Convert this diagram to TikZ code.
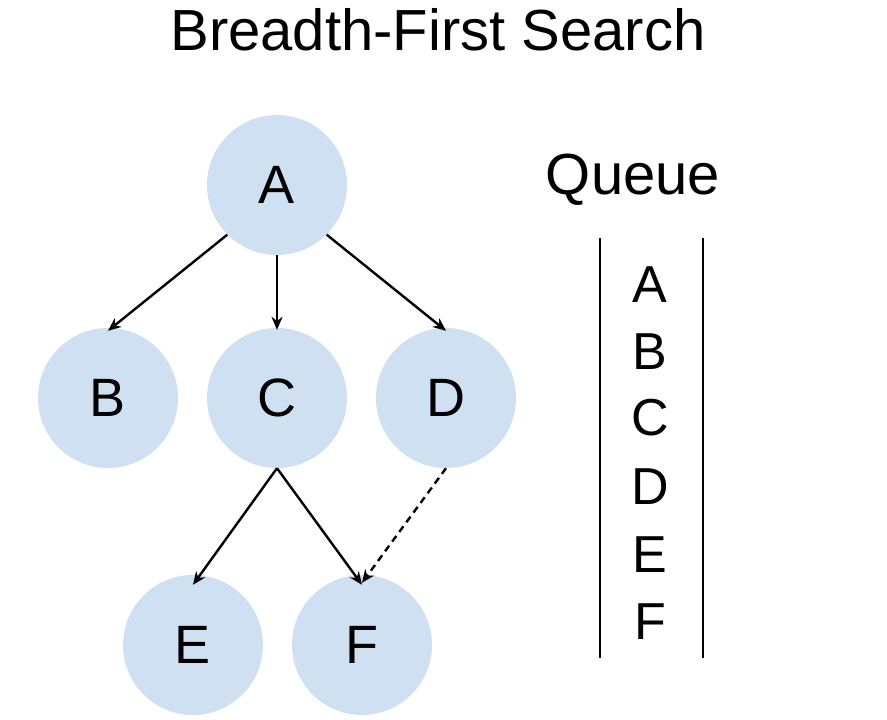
\documentclass[tikz,border=0pt]{standalone}
\usepackage{fontspec}
\setmainfont{Liberation Sans}
\usetikzlibrary{arrows.meta}
\begin{document}
\begin{tikzpicture}[x=1pt,y=-1pt,
  vert/.style={circle,fill=bfill,minimum size=140pt,inner sep=0pt,font=\fontsize{54}{54}\selectfont},
  arr/.style={-{Stealth[length=13pt,width=11pt]},line width=2.4pt},
  qtxt/.style={font=\fontsize{52}{52}\selectfont}]
\definecolor{bfill}{HTML}{CFE0F2}
\useasboundingbox (0,0) rectangle (887,720);
\node at (438,30) {\fontsize{58}{58}\selectfont Breadth-First Search};
\node[vert] (A) at (277,185) {A};
\node[vert] (B) at (108,398) {B};
\node[vert] (C) at (277,398) {C};
\node[vert] (D) at (446,398) {D};
\node[vert] (E) at (193,645) {E};
\node[vert] (F) at (362,645) {F};
\draw[arr] (A.225) -- ([yshift=-3pt]B.north);
\draw[arr] (A.south) -- ([yshift=-2pt]C.north);
\draw[arr] (A.-45) -- ([yshift=-3pt]D.north);
\draw[arr] (C.south) -- ([yshift=-10pt]E.north);
\draw[arr] (C.south) -- ([yshift=-10pt]F.north);
\draw[arr,dash pattern=on 7pt off 5pt] (D.south) -- ([yshift=-8pt]F.north);
\node[font=\fontsize{58}{58}\selectfont] (Q) at (633,180) {Queue};
\coordinate (l1) at (600,238); \coordinate (l2) at (600,658);
\coordinate (r1) at (703,238); \coordinate (r2) at (703,658);
\draw[line width=2.6pt] (l1) -- (l2);
\draw[line width=2.6pt] (r1) -- (r2);
\node[qtxt] (qA) at (650,285) {A};
\node[qtxt] (qB) at (650,352) {B};
\node[qtxt] (qC) at (650,418) {C};
\node[qtxt] (qD) at (650,487) {D};
\node[qtxt] (qE) at (650,555) {E};
\node[qtxt] (qF) at (650,622) {F};
\end{tikzpicture}
\end{document}
